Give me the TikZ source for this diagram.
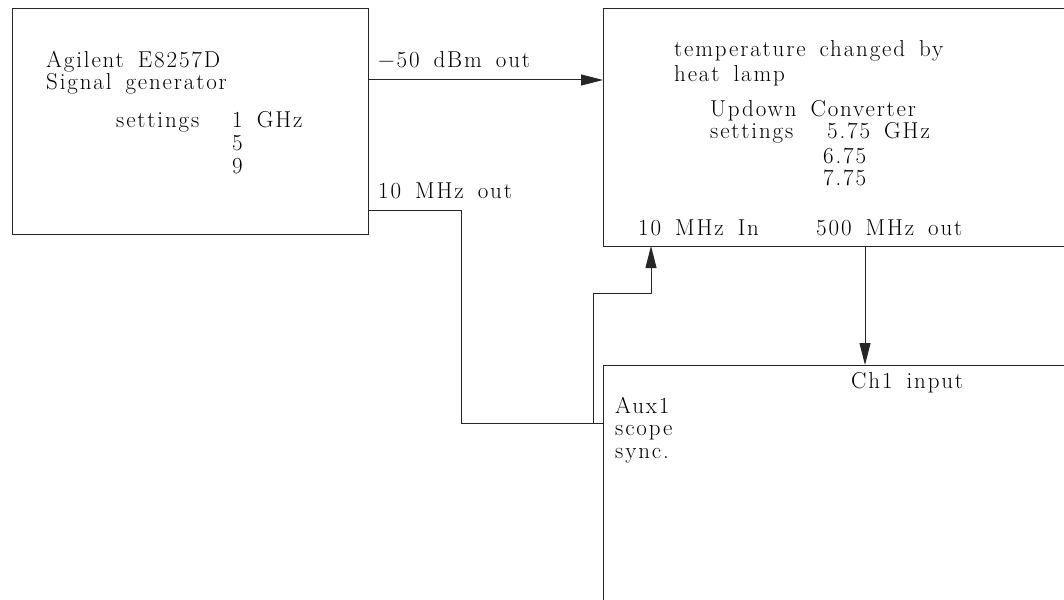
\documentclass[tikz,border=0pt]{standalone}
\usepackage{fontspec}
\setmainfont{Latin Modern Roman}[LetterSpace=8,WordSpace=1.6]
\usetikzlibrary{arrows.meta}
\begin{document}
\begin{tikzpicture}[x=1pt,y=-1pt,
  box/.style={draw=black!85,line width=1pt,inner sep=0pt,outer sep=0pt,anchor=north west},
  wire/.style={draw=black!85,line width=1pt},
  sig/.style={wire,-{Triangle[length=22pt,width=11pt]}},
  lbl/.style={anchor=base west,inner sep=0pt,font=\fontsize{23}{26}\selectfont}]
\useasboundingbox (0,0) rectangle (1064,599);
\clip (0,0) rectangle (1064,599);
% instruments
\node[box,minimum width=356pt,minimum height=225pt] (gen) at (12,9) {};
\node[box,minimum width=500pt,minimum height=237pt] (conv) at (603,9) {};
\node[box,minimum width=500pt,minimum height=300pt] (scope) at (603,365) {};
% signal generator
\node[lbl] (gentitle) at (46,68) {Agilent E8257D};
\node[lbl] (gentype) at (46,90) {Signal generator};
\node[lbl] (genset) at (116,128) {settings};
\node[lbl] (genfa) at (232,128) {1 GHz};
\node[lbl] (genfb) at (232,150) {5};
\node[lbl] (genfc) at (232,173) {9};
% converter
\node[lbl] (convnote) at (674,57) {temperature changed by};
\node[lbl] (convlamp) at (674,82) {heat lamp};
\node[lbl] (convname) at (710,117) {Updown Converter};
\node[lbl] (convset) at (710,139) {settings};
\node[lbl] (convfa) at (827,139) {5.75 GHz};
\node[lbl] (convfb) at (823,163) {6.75};
\node[lbl] (convfc) at (823,185) {7.75};
\node[lbl] (convin) at (638,235) {10 MHz In};
\node[lbl] (convout) at (816,235) {500 MHz out};
% scope
\node[lbl] (scopech) at (851,388) {Ch1 input};
\node[lbl] (scopeaux) at (615,413) {Aux1};
\node[lbl] (scopename) at (615,435) {scope};
\node[lbl] (scopesync) at (615,458) {sync.};
% connections
\node[lbl] (rflbl) at (378,68) {−50 dBm out};
\node[lbl] (reflbl) at (378,198) {10 MHz out};
\draw[sig] ([yshift=-71pt]gen.north east) coordinate (rfout) -- (rfout -| conv.west);
\draw[wire] ([yshift=-201pt]gen.north east) -- ++(93,0) |- (scope.west |- 0,423);
\coordinate (tap) at (593,423);
\draw[sig] (tap) |- (651,293) -- (651,0 |- conv.south);
\draw[sig] (865,0 |- conv.south) -- (865,0 |- scope.north);
\end{tikzpicture}
\end{document}
